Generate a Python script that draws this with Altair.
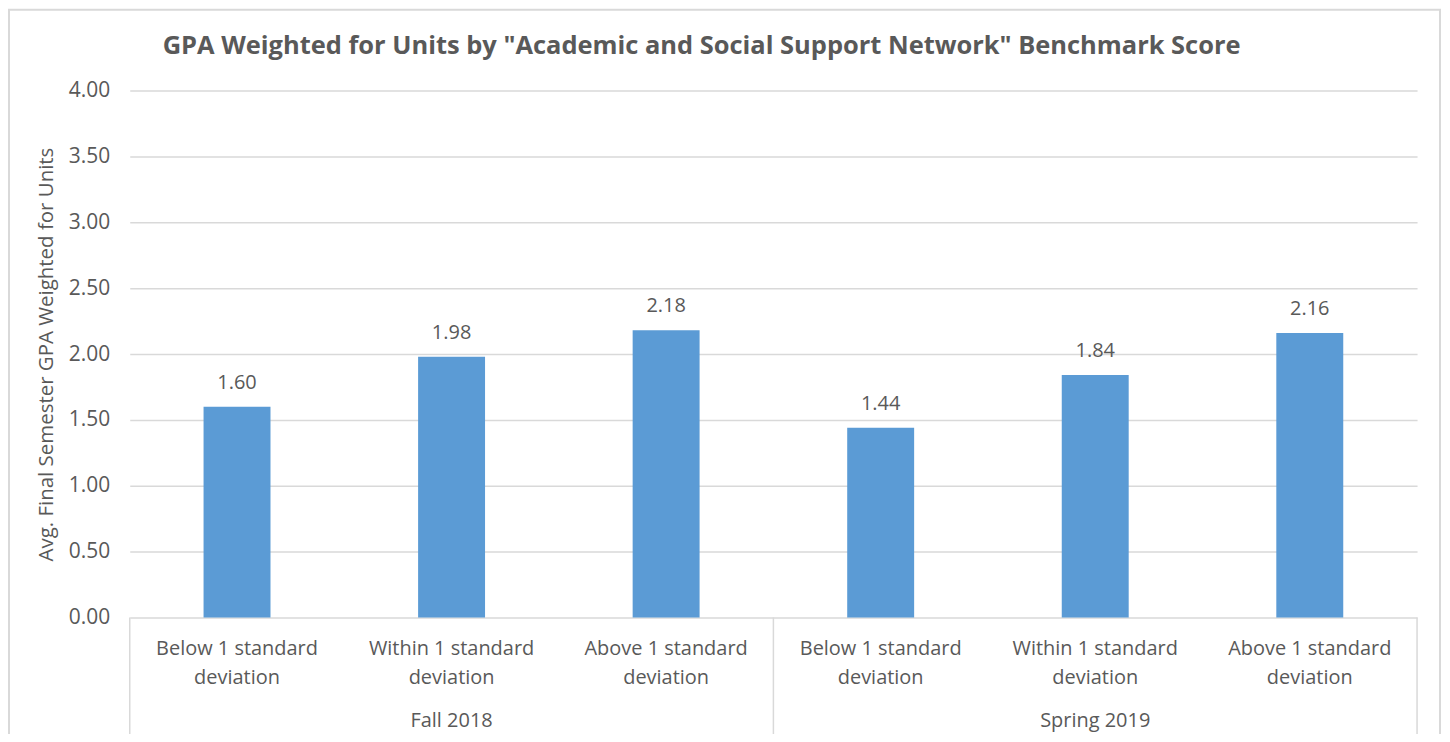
import altair as alt
import pandas as pd

groups = ["Fall 2018", "Fall 2018", "Fall 2018", "Spring 2019", "Spring 2019", "Spring 2019"]
categories = [
    "Below 1 standard\ndeviation", "Within 1 standard\ndeviation", "Above 1 standard\ndeviation",
    "Below 1 standard\ndeviation", "Within 1 standard\ndeviation", "Above 1 standard\ndeviation",
]
values = [1.60, 1.98, 2.18, 1.44, 1.84, 2.16]
y_ticks = [0, 0.5, 1, 1.5, 2, 2.5, 3, 3.5, 4]
title_text = 'GPA Weighted for Units by "Academic and Social Support Network" Benchmark Score'
y_title = "Avg. Final Semester GPA Weighted for Units"

keys = [f"{g}|{i}" for i, g in enumerate(groups)]
df = pd.DataFrame({"key": keys, "group": groups, "cat": categories, "value": values})

# group labels placed at the middle category of each group
group_names = ["Fall 2018", "Spring 2019"]
group_mid = pd.DataFrame({"key": [keys[1], keys[4]], "group": group_names})
div_start = pd.DataFrame({"key": [keys[0], keys[3]]})
div_end = pd.DataFrame({"key": [keys[5]]})
title_df = pd.DataFrame({"t": [title_text]})

FONT = "Open Sans"
TXT = "#595959"
GRID = "#d9d9d9"

xenc = alt.X("key:N", sort=keys, scale=alt.Scale(paddingInner=0, paddingOuter=0), axis=None)

bars = alt.Chart(df).mark_bar(color="#5b9bd5", width=alt.RelativeBandSize(0.312)).encode(
    x=xenc,
    y=alt.Y("value:Q", scale=alt.Scale(domain=[0, 4]),
            axis=alt.Axis(values=y_ticks, format=".2f", title=y_title, grid=True,
                          domain=False, ticks=False, labelPadding=20,
                          titleX=-83, titleY=264, titleAngle=-90,
                          titleAlign="center", titleBaseline="middle")),
)

value_labels = alt.Chart(df).mark_text(baseline="middle", dy=-24, fontSize=20, font=FONT, color=TXT).encode(
    x=xenc, y="value:Q", text=alt.Text("value:Q", format=".2f")
)

cat_labels = alt.Chart(df).mark_text(baseline="top", lineBreak="\n", lineHeight=29, fontSize=20,
                                     font=FONT, color=TXT).encode(
    x=xenc, y=alt.value(550), text="cat:N"
)

grp_labels = alt.Chart(group_mid).mark_text(baseline="middle", fontSize=20, font=FONT, color=TXT).encode(
    x=alt.X("key:N", sort=keys, axis=None), y=alt.value(632), text="group:N"
)

title = alt.Chart(title_df).mark_text(align="left", baseline="alphabetic", fontSize=25.5, font=FONT,
                                      fontWeight="bold", color=TXT).encode(
    x=alt.value(33), y=alt.value(-37), text="t:N"
)

rule_start = alt.Chart(div_start).mark_rule(color=GRID, strokeWidth=1.5).encode(
    x=alt.X("key:N", sort=keys, bandPosition=0, axis=None), y=alt.value(528), y2=alt.value(660)
)
rule_end = alt.Chart(div_end).mark_rule(color=GRID, strokeWidth=1.5).encode(
    x=alt.X("key:N", sort=keys, bandPosition=1, axis=None), y=alt.value(528), y2=alt.value(660)
)

border = alt.Chart(pd.DataFrame({"b": [0]})).mark_rect(fill=None, stroke=GRID, strokeWidth=2).encode(
    x=alt.value(-121), x2=alt.value(1313), y=alt.value(-81), y2=alt.value(700)
)

chart = alt.layer(border, bars, value_labels, cat_labels, grp_labels, title, rule_start, rule_end).properties(
    width=1290, height=528,
    autosize=alt.AutoSizeParams(type="none"),
    padding={"left": 122, "top": 82, "right": 25, "bottom": 116},
).configure_view(stroke=None).configure_axis(
    labelFont=FONT, labelFontSize=21, labelColor=TXT, titleFont=FONT, titleFontSize=20.5,
    titleColor=TXT, titleFontWeight="normal", gridColor=GRID, gridWidth=1.5
)

chart.save("out.html", embed_options={"renderer": "svg", "actions": False})
